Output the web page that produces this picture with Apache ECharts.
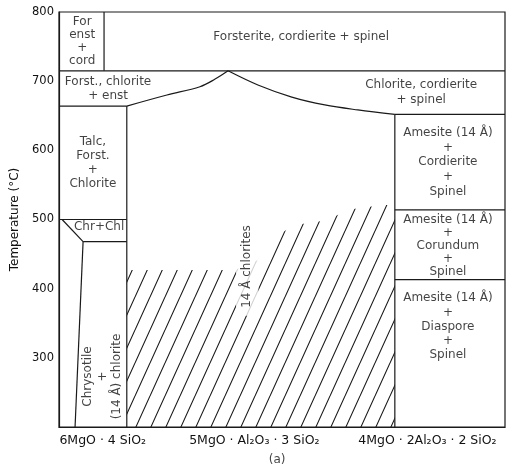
<!DOCTYPE html>
<html>
<head>
<meta charset="utf-8">
<script src="https://cdn.jsdelivr.net/npm/echarts@6/dist/echarts.min.js"></script>
<style>
html,body{margin:0;padding:0;background:#fff;}
#chart{width:506px;height:476px;}
</style>
</head>
<body>
<div id="chart"></div>
<script>
// ---- data (x: relative composition position 0..100, y: temperature °C) ----
const yTickValues = [300, 400, 500, 600, 700, 800];
const xTickValues = [9.8, 43.8, 82.6];
const xTickLabels = ['6MgO · 4 SiO₂', '5MgO · Al₂O₃ · 3 SiO₂', '4MgO · 2Al₂O₃ · 2 SiO₂'];

// phase boundaries
const line715 = [[0, 715], [100, 715]];
const forEnstDivider = [[10.1, 715], [10.1, 800]];
const forstChloriteBase = [[0, 664], [15.2, 664]];
const chloriteDivider = [[15.2, 664], [15.2, 200]];
const curveLeft = [[15.2, 664], [24.2, 680], [31.6, 692], [35.0, 703], [37.9, 715]];
const curveRight = [[37.9, 715], [44.6, 694.5], [52.2, 677], [59.6, 665.6], [67.0, 658.4], [75.3, 652]];
const chrChlTop = [[0, 500], [15.2, 500]];
const chrChlDiag = [[0.7, 500], [5.4, 468]];
const chrChlBase = [[5.4, 468], [15.2, 468]];
const chrysotileLine = [[5.4, 468], [3.6, 200]];
const amesiteDivider = [[75.3, 652], [75.3, 200]];
const amesiteTop = [[75.3, 652], [100, 652]];
const amesiteMid = [[75.3, 514], [100, 514]];
const amesiteLow = [[75.3, 413], [100, 413]];
const hatchTop = [[15.2, 427], [39.5, 427], [44.5, 441], [47.8, 473], [52.9, 492],
                  [60.1, 499], [64.8, 514], [72.4, 521], [75.3, 521]];

// region labels (horizontal)
const labelText = [
  'For\nenst\n+\ncord',
  'Forsterite, cordierite + spinel',
  'Forst., chlorite\n+ enst',
  'Talc,\nForst.\n+\nChlorite',
  'Chr+Chl',
  'Chlorite, cordierite\n+ spinel',
  'Amesite (14 Å)\n+\nCordierite\n+\nSpinel',
  'Amesite (14 Å)\n+\nCorundum\n+\nSpinel',
  'Amesite (14 Å)\n+\nDiaspore\n+\nSpinel'
];
const labelAt = [[5.2, 758], [54.3, 764], [11.0, 689], [7.6, 582], [9.0, 489],
                 [81.2, 684], [87.2, 583], [87.2, 462], [87.2, 345]];
// region labels (vertical)
const vLabelText = ['Chrysotile\n+\n(14 Å) chlorite', '14 Å chlorites'];
const vLabelAt = [[9.8, 273], [42.2, 432]];
const captionText = '(a)';
const captionAt = [48.9, 200];

// ---- styling ----
const ink = '#1a1a1a';
const textInk = '#111';
const font = "'DejaVu Sans', Verdana, sans-serif";

function hatchPattern() {
  const w = 15, h = 33;
  const c = document.createElement('canvas');
  c.width = w; c.height = h;
  const ctx = c.getContext('2d');
  ctx.strokeStyle = ink;
  ctx.lineWidth = 1.1;
  ctx.beginPath();
  ctx.moveTo(-w, h); ctx.lineTo(0, 0);
  ctx.moveTo(0, h); ctx.lineTo(w, 0);
  ctx.moveTo(w, h); ctx.lineTo(2 * w, 0);
  ctx.stroke();
  return { image: c, repeat: 'repeat' };
}

function seg(data, smooth) {
  return {
    type: 'line', data: data, showSymbol: false, symbol: 'none', silent: true,
    smooth: smooth || false, lineStyle: { color: ink, width: 1.2 }, z: 3, animation: false
  };
}

const lineSets = [line715, forEnstDivider, forstChloriteBase, chloriteDivider, chrChlTop,
  chrChlDiag, chrChlBase, chrysotileLine, amesiteDivider, amesiteTop, amesiteMid, amesiteLow];

const series = [];
series.push({
  type: 'line', data: hatchTop, showSymbol: false, symbol: 'none', silent: true,
  lineStyle: { width: 0, opacity: 0 },
  areaStyle: { color: hatchPattern(), origin: 'start', opacity: 1 },
  z: 1, animation: false
});
lineSets.forEach(d => series.push(seg(d)));
series.push(seg(curveLeft, 0.35));
series.push(seg(curveRight, 0.35));

const lh = [13, 14, 14, 14, 14, 14.5, 14.7, 12.8, 14.2];
series.push({
  type: 'scatter', symbolSize: 0, silent: true, z: 10, animation: false,
  data: labelText.map((t, i) => ({
    value: labelAt[i],
    label: { formatter: t, lineHeight: lh[i] }
  })),
  label: {
    show: true, position: 'inside', align: 'center', verticalAlign: 'middle',
    color: textInk, fontSize: 12, fontFamily: font
  }
});
series.push({
  type: 'scatter', symbolSize: 0, silent: true, z: 10, animation: false,
  data: vLabelText.map((t, i) => ({
    value: vLabelAt[i],
    label: i === 1 ? { formatter: t, backgroundColor: '#fff', padding: [4, 8] } : { formatter: t }
  })),
  label: {
    show: true, position: 'inside', align: 'center', verticalAlign: 'middle', rotate: 90,
    color: textInk, fontSize: 12, fontFamily: font, lineHeight: 14.5
  }
});
series.push({
  type: 'scatter', symbolSize: 0, silent: true, z: 10, animation: false,
  data: [{ value: captionAt }],
  label: {
    show: true, position: 'inside', formatter: captionText, offset: [0, 33],
    color: textInk, fontSize: 12, fontFamily: font
  }
});

const chart = echarts.init(document.getElementById('chart'), null, { renderer: 'canvas' });
chart.setOption({
  backgroundColor: '#fff',
  animation: false,
  grid: {
    left: 59, right: 1, top: 12, bottom: 49,
    show: true, borderColor: ink, borderWidth: 1.2, backgroundColor: 'transparent',
    containLabel: false, outerBoundsMode: 'none'
  },
  xAxis: {
    type: 'value', min: 0, max: 100,
    axisLine: { show: true, lineStyle: { color: ink, width: 1.2 } },
    axisTick: { show: false },
    splitLine: { show: false },
    axisLabel: {
      customValues: xTickValues,
      formatter: v => xTickLabels[xTickValues.indexOf(v)] || '',
      color: textInk, fontSize: 12.5, fontFamily: font, margin: 7,
      showMinLabel: true, showMaxLabel: true
    }
  },
  yAxis: {
    type: 'value', min: 200, max: 800, interval: 100,
    name: 'Temperature (°C)', nameLocation: 'middle', nameGap: 30,
    nameTextStyle: { color: textInk, fontSize: 12, fontFamily: font },
    axisLine: { show: true, lineStyle: { color: ink, width: 1.2 } },
    axisTick: { show: false },
    splitLine: { show: false },
    axisLabel: {
      customValues: yTickValues,
      color: textInk, fontSize: 11.5, fontFamily: font, margin: 5
    }
  },
  series: series
});
</script>
</body>
</html>
